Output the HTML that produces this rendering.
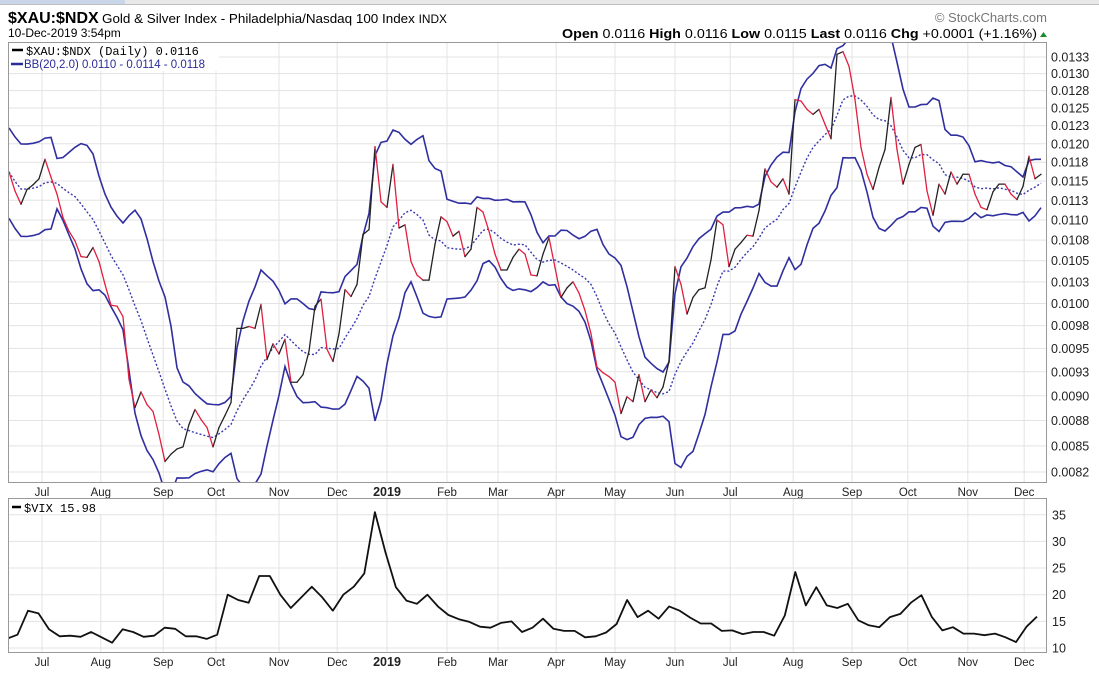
<!DOCTYPE html>
<html><head><meta charset="utf-8">
<style>
html,body{margin:0;padding:0;background:#fff;}
svg{display:block;font-family:"Liberation Sans",sans-serif;}
</style></head>
<body>
<svg id="chart" width="1099" height="678" viewBox="0 0 1099 678" xmlns="http://www.w3.org/2000/svg">
  <rect x="0" y="0" width="1099" height="4" fill="#e8e8e8"/>
  <rect x="0" y="0" width="125" height="4" fill="#c9d6ea"/>
  <line x1="0" y1="4.5" x2="1099" y2="4.5" stroke="#bdbdbd"/>
  <text x="8" y="23" font-size="16" font-weight="bold">$XAU:$NDX</text>
  <text x="102" y="23" font-size="13" textLength="345" lengthAdjust="spacingAndGlyphs">Gold &amp; Silver Index - Philadelphia/Nasdaq 100 Index <tspan font-size="11.5">INDX</tspan></text>
  <text x="8" y="37" font-size="12">10-Dec-2019 3:54pm</text>
  <text x="1047" y="22" font-size="13" fill="#777" text-anchor="end">© StockCharts.com</text>
  <text x="562" y="38" font-size="13" textLength="475" lengthAdjust="spacingAndGlyphs"><tspan font-weight="bold">Open</tspan> 0.0116 <tspan font-weight="bold">High</tspan> 0.0116 <tspan font-weight="bold">Low</tspan> 0.0115 <tspan font-weight="bold">Last</tspan> 0.0116 <tspan font-weight="bold">Chg</tspan> +0.0001 (+1.16%)</text>
  <path d="M1040 37 L1047 37 L1043.5 32 Z" fill="#1a8a2a"/>
  <defs>
    <clipPath id="clipP"><rect x="8" y="42" width="1039" height="441"/></clipPath>
    <clipPath id="clipV"><rect x="8" y="498" width="1039" height="155"/></clipPath>
  </defs>
  <g id="grid"></g>
  <g id="marks"></g>
  <rect x="8.5" y="42.5" width="1038" height="440" fill="none" stroke="#999"/>
  <rect x="8.5" y="498.5" width="1038" height="154" fill="none" stroke="#999"/>
  <g>
    <rect x="9" y="43" width="210" height="28" fill="#fff"/>
    <line x1="12" y1="50" x2="23" y2="50" stroke="#000" stroke-width="2.5"/>
    <text x="26" y="55" font-size="12" font-family="Liberation Mono, monospace">$XAU:$NDX (Daily) 0.0116</text>
    <line x1="11" y1="64" x2="23" y2="64" stroke="#2b2b9a" stroke-width="2.5"/>
    <text x="24" y="68" font-size="11.5" textLength="181" lengthAdjust="spacingAndGlyphs" fill="#2b2b9a">BB(20,2.0) 0.0110 - 0.0114 - 0.0118</text>
  </g>
  <g>
    <rect x="9" y="499" width="100" height="15" fill="#fff"/>
    <line x1="12" y1="507" x2="21" y2="507" stroke="#000" stroke-width="2.5"/>
    <text x="24" y="512" font-size="12" font-family="Liberation Mono, monospace">$VIX 15.98</text>
  </g>
</svg>
<script>
const price = [0.01162,0.01137,0.01120,0.01139,0.01145,0.01153,0.01179,0.01155,0.01133,0.01103,
0.01086,0.01074,0.01055,0.01054,0.01066,0.01049,0.01022,0.00998,0.00997,0.00985,
0.00917,0.00888,0.00904,0.00891,0.00884,0.00861,0.00835,0.00842,0.00847,0.00849,
0.00871,0.00886,0.00876,0.00868,0.00849,0.00868,0.00880,0.00893,0.00972,0.00972,
0.00974,0.00972,0.00999,0.00938,0.00955,0.00944,0.00960,0.00914,0.00914,0.00922,
0.00947,0.00997,0.01005,0.00949,0.00936,0.00966,0.01016,0.01008,0.01022,
0.01082,0.01088,0.01196,0.01123,0.01116,0.01172,0.01090,0.01094,0.01049,0.01033,
0.01027,0.01027,0.01070,0.01104,0.01098,0.01080,0.01086,0.01055,0.01064,0.01116,
0.01110,0.01086,0.01058,0.01039,0.01039,0.01054,0.01064,0.01058,0.01033,0.01032,
0.01058,0.01078,0.01042,0.01007,0.01018,0.01025,0.01012,0.00992,0.00966,0.00930,
0.00924,0.00920,0.00914,0.00882,0.00899,0.00894,0.00922,0.00894,0.00906,0.00898,
0.00909,0.00936,0.01043,0.01022,0.00988,0.01007,0.01016,0.01018,0.01051,0.01100,
0.01094,0.01043,0.01064,0.01072,0.01081,0.01080,0.01112,0.01166,0.01149,0.01142,
0.01153,0.01133,0.01262,0.01260,0.01248,0.01241,0.01248,0.01227,0.01207,0.01329,
0.01333,0.01311,0.01262,0.01195,0.01159,0.01139,0.01168,0.01192,0.01265,0.01192,
0.01146,0.01172,0.01195,0.01199,0.01137,0.01106,0.01146,0.01133,0.01162,0.01146,
0.01159,0.01159,0.01133,0.01116,0.01113,0.01136,0.01146,0.01146,0.01133,0.01126,
0.01143,0.01183,0.01153,0.01159];
const vix = [11.75,12.5,17,16.5,13.5,12.2,12.3,12.1,13,12,
11,13.5,13,12.1,12.3,13.8,13.6,12.2,12.2,11.7,
12.5,20,19,18.5,23.5,23.5,20,17.5,19.5,21.5,
19.5,17,20,21.5,24,35.5,28,21.4,18.9,18.3,
20,17.8,16.2,15.4,14.9,14,13.8,14.7,15,13,
13.8,15.5,13.6,13.2,13.2,12,12.2,12.9,14.5,19,
15.8,17,15.5,17.8,17,15.7,14.6,14.6,13.2,13.3,
12.6,13,13,12.3,16.1,24.25,18,21.4,18,17.5,
18.3,15.2,14.25,13.9,15.8,16.4,18.5,19.9,15.8,13.3,
13.9,12.7,12.7,12.4,12.7,12,11.1,14,15.9];
const monthLabels = ["Jul","Aug","Sep","Oct","Nov","Dec","2019","Feb","Mar","Apr","May","Jun","Jul","Aug","Sep","Oct","Nov","Dec"];
const monthIdx = [5.5,15.3,25.7,34.5,45,54.7,63,73,81.5,91.2,101,111,120.2,130.7,140.5,149.8,159.8,169.2];
const priceTicks = [0.00825,0.0085,0.00875,0.009,0.00925,0.0095,0.00975,0.01,0.01025,0.0105,0.01075,0.011,0.01125,0.0115,0.01175,0.012,0.01225,0.0125,0.01275,0.013,0.01325];
const priceTickLabels = ["0.0082","0.0085","0.0088","0.0090","0.0093","0.0095","0.0098","0.0100","0.0103","0.0105","0.0108","0.0110","0.0113","0.0115","0.0118","0.0120","0.0123","0.0125","0.0128","0.0130","0.0133"];
const vixTicks = [10,15,20,25,30,35];
const vixTickLabels = ["10","15","20","25","30","35"];

const NS="http://www.w3.org/2000/svg";
const grid=document.getElementById('grid'), marks=document.getElementById('marks');
const X0=9, X1=1041;
const xP = i => X0 + i*(X1-X0)/(price.length-1);
const xV = i => 7 + i*(1037-7)/(vix.length-1);
const yP = v => 472 - (Math.log(v)-Math.log(0.00825))*876;
const yV = v => 648 - (v-10)*5.33;
function mk(tag, attrs, parent){const e=document.createElementNS(NS,tag);for(const k in attrs)e.setAttribute(k,attrs[k]);parent.appendChild(e);return e;}

priceTicks.forEach((t,i)=>{
  const y=yP(t);
  const l=mk('line',{x1:8,x2:1047,y1:y,y2:y,stroke:'#e3e3e3'},grid);
  
  
  const tx=mk('text',{x:1051,y:y+4.5,'font-size':12.5,fill:'#222'},grid);
  tx.textContent=priceTickLabels[i];
  
  
});
vixTicks.forEach((t,i)=>{
  const y=yV(t);
  const l=mk('line',{x1:8,x2:1047,y1:y,y2:y,stroke:'#e3e3e3'},grid);
  
  
  const tx=mk('text',{x:1052,y:y+4.5,'font-size':12.5,fill:'#222'},grid);
  tx.textContent=vixTickLabels[i];
  
  
});
monthIdx.forEach((m,i)=>{
  const x=xP(m);
  const l1=mk('line',{x1:x,x2:x,y1:42,y2:483,stroke:'#e3e3e3'},grid);
  
  
  const l2=mk('line',{x1:x,x2:x,y1:498,y2:653,stroke:'#e3e3e3'},grid);
  
  
  const bold = monthLabels[i]==="2019";
  [496,666].forEach(y=>{
    const t=mk('text',{x:x,y:y,'font-size':bold?12.5:11.5,'text-anchor':'middle','font-weight':bold?'bold':'normal',fill:'#222'},grid);
    t.textContent=monthLabels[i];
    
    
  });
});

const W=9, up=[], mid=[], lo=[];
for(let i=0;i<price.length;i++){
  const s=Math.max(0,i-W+1), w=price.slice(s,i+1);
  const m=w.reduce((a,b)=>a+b,0)/w.length;
  const sd=Math.sqrt(w.reduce((a,b)=>a+(b-m)*(b-m),0)/w.length);
  const sdu = w.length<W ? Math.max(sd,0.0003) : sd;
  mid.push(m); up.push(m+2*sdu); lo.push(m-2*sdu);
}
const gP=mk('g',{'clip-path':'url(#clipP)'},marks);
function poly(arr,attrs,name){
  const p=mk('polyline',Object.assign({points:arr.map((v,i)=>xP(i).toFixed(1)+','+yP(Math.max(v,0.006)).toFixed(1)).join(' '),fill:'none'},attrs),gP);
  
  
}
poly(up,{stroke:'#2f2fa0','stroke-width':1.6},'bb-upper-band');
poly(lo,{stroke:'#2f2fa0','stroke-width':1.6},'bb-lower-band');
poly(mid,{stroke:'#3a3ab0','stroke-width':1.4,'stroke-dasharray':'2,2'},'bb-middle-band');
for(let i=1;i<price.length;i++){
  const dn = price[i]<price[i-1];
  const s=mk('line',{x1:xP(i-1),y1:yP(price[i-1]),x2:xP(i),y2:yP(price[i]),stroke:dn?'#e0203f':'#222','stroke-width':1.3,'stroke-linecap':'round'},gP);
  
  
}
const gV=mk('g',{'clip-path':'url(#clipV)'},marks);
const vl=mk('polyline',{points:vix.map((v,i)=>xV(i).toFixed(1)+','+yV(v).toFixed(1)).join(' '),fill:'none',stroke:'#111','stroke-width':1.8,'stroke-linejoin':'round'},gV);


</script>
</body></html>
